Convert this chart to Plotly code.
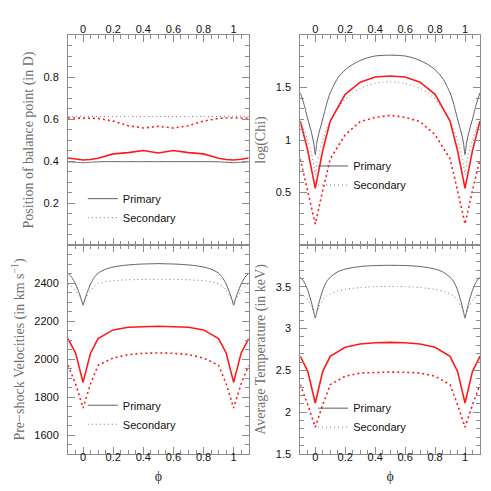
import plotly.graph_objects as go

# =========================
# DATA
# =========================
# observed (red) curves are sampled at these phases
red_phase = [-0.1, -0.05, 0.0, 0.05, 0.1, 0.2, 0.3, 0.4, 0.5, 0.6, 0.7, 0.8, 0.9, 0.95, 1.0, 1.05, 1.1]

# model (grey) curves, denser sampling
model_phase = [-0.1, -0.075, -0.05, -0.025, -0.01, 0.0, 0.01, 0.025, 0.05, 0.075, 0.1,
               0.15, 0.2, 0.25, 0.3, 0.35, 0.4, 0.45, 0.5, 0.55, 0.6, 0.65, 0.7, 0.75, 0.8, 0.85,
               0.9, 0.925, 0.95, 0.975, 0.99, 1.0, 1.01, 1.025, 1.05, 1.075, 1.1]

# position of balance point
balance_primary_model = [0.396, 0.395, 0.394, 0.393, 0.392, 0.392, 0.392, 0.393, 0.394, 0.395, 0.396,
                         0.397, 0.397, 0.397, 0.397, 0.397, 0.397, 0.397, 0.397, 0.397, 0.397, 0.397,
                         0.397, 0.397, 0.397, 0.397, 0.396, 0.395, 0.394, 0.393, 0.392, 0.392, 0.392,
                         0.393, 0.394, 0.395, 0.396]
balance_secondary_model = [0.612, 0.612, 0.613, 0.613, 0.613, 0.613, 0.613, 0.613, 0.613, 0.612, 0.612,
                           0.612, 0.612, 0.612, 0.612, 0.612, 0.612, 0.612, 0.612, 0.612, 0.612, 0.612,
                           0.612, 0.612, 0.612, 0.612, 0.612, 0.612, 0.613, 0.613, 0.613, 0.613, 0.613,
                           0.613, 0.613, 0.612, 0.612]
balance_primary_obs = [0.414, 0.408, 0.405, 0.407, 0.413, 0.434, 0.440, 0.450, 0.438, 0.450, 0.440,
                       0.434, 0.413, 0.407, 0.405, 0.408, 0.414]
balance_secondary_obs = [0.605, 0.605, 0.605, 0.605, 0.603, 0.590, 0.568, 0.557, 0.565, 0.557, 0.568,
                         0.590, 0.603, 0.605, 0.605, 0.605, 0.605]

# log(Chi)
chi_primary_model = [1.45, 1.34, 1.20, 1.07, 0.97, 0.86, 0.97, 1.07, 1.20, 1.34, 1.45,
                     1.59, 1.67, 1.72, 1.757, 1.783, 1.80, 1.806, 1.808, 1.806, 1.80, 1.783,
                     1.757, 1.72, 1.67, 1.59, 1.45, 1.34, 1.20, 1.07, 0.97, 0.86, 0.97,
                     1.07, 1.20, 1.34, 1.45]
chi_secondary_model = [1.18, 1.10, 1.00, 0.87, 0.77, 0.67, 0.77, 0.87, 1.00, 1.10, 1.18,
                       1.30, 1.39, 1.45, 1.49, 1.52, 1.54, 1.55, 1.553, 1.55, 1.54, 1.52,
                       1.49, 1.45, 1.39, 1.30, 1.18, 1.10, 1.00, 0.87, 0.77, 0.67, 0.77,
                       0.87, 1.00, 1.10, 1.18]
chi_primary_obs = [1.18, 0.90, 0.54, 0.90, 1.18, 1.435, 1.55, 1.60, 1.61, 1.60, 1.55,
                   1.435, 1.18, 0.90, 0.54, 0.90, 1.18]
chi_secondary_obs = [0.82, 0.52, 0.20, 0.52, 0.82, 1.05, 1.175, 1.215, 1.235, 1.215, 1.175,
                     1.05, 0.82, 0.52, 0.20, 0.52, 0.82]

# pre-shock velocities (km/s)
vel_primary_model = [2452, 2430, 2395, 2345, 2310, 2283, 2310, 2345, 2395, 2430, 2452,
                     2473, 2484, 2491, 2495, 2498, 2500, 2501, 2502, 2501, 2500, 2498,
                     2495, 2491, 2484, 2473, 2452, 2430, 2395, 2345, 2310, 2283, 2310,
                     2345, 2395, 2430, 2452]
vel_secondary_model = [2395, 2382, 2360, 2330, 2310, 2298, 2310, 2330, 2360, 2382, 2395,
                       2407, 2412, 2415, 2417, 2418, 2419, 2419, 2419, 2419, 2419, 2418,
                       2417, 2415, 2412, 2407, 2395, 2382, 2360, 2330, 2310, 2298, 2310,
                       2330, 2360, 2382, 2395]
vel_primary_obs = [2107, 2032, 1877, 2032, 2107, 2153, 2167, 2170, 2172, 2170, 2167,
                   2153, 2107, 2032, 1877, 2032, 2107]
vel_secondary_obs = [1967, 1870, 1742, 1870, 1967, 2005, 2023, 2030, 2032, 2030, 2023,
                     2005, 1967, 1870, 1742, 1870, 1967]

# average temperature (keV)
temp_primary_model = [3.615, 3.56, 3.46, 3.31, 3.20, 3.125, 3.20, 3.31, 3.46, 3.56, 3.615,
                      3.68, 3.712, 3.73, 3.742, 3.75, 3.754, 3.756, 3.757, 3.756, 3.754, 3.75,
                      3.742, 3.73, 3.712, 3.68, 3.615, 3.56, 3.46, 3.31, 3.20, 3.125, 3.20,
                      3.31, 3.46, 3.56, 3.615]
temp_secondary_model = [3.415, 3.39, 3.34, 3.26, 3.19, 3.14, 3.19, 3.26, 3.34, 3.39, 3.415,
                        3.45, 3.47, 3.482, 3.49, 3.497, 3.501, 3.504, 3.505, 3.504, 3.501, 3.497,
                        3.49, 3.482, 3.47, 3.45, 3.415, 3.39, 3.34, 3.26, 3.19, 3.14, 3.19,
                        3.26, 3.34, 3.39, 3.415]
temp_primary_obs = [2.668, 2.489, 2.11, 2.489, 2.668, 2.776, 2.816, 2.831, 2.835, 2.831, 2.816,
                    2.776, 2.668, 2.489, 2.11, 2.489, 2.668]
temp_secondary_obs = [2.33, 2.09, 1.82, 2.09, 2.33, 2.43, 2.469, 2.478, 2.48, 2.478, 2.469,
                      2.43, 2.33, 2.09, 1.82, 2.09, 2.33]

# tick labels
phase_ticks = [0, 0.2, 0.4, 0.6, 0.8, 1]
phase_ticklabels = ["0", "0.2", "0.4", "0.6", "0.8", "1"]
balance_ticks = [0.2, 0.4, 0.6, 0.8]
chi_ticks = [0.5, 1, 1.5]
vel_ticks = [1600, 1800, 2000, 2200, 2400]
temp_ticks = [1.5, 2, 2.5, 3, 3.5]

# =========================
# STYLE
# =========================
FRAME = "#8c8c8c"
GREY = "#5f5f5f"
RED = "#ff1a1a"
TICK_FONT = dict(family="Liberation Sans, Arial, sans-serif", size=11, color="#111111")
TITLE_FONT = dict(family="Liberation Serif, serif", size=14, color="#707070")

X_LEFT = [0.0, 0.4386]
X_RIGHT = [0.5638, 1.0]
Y_TOP = [0.4988, 1.0]
Y_BOTTOM = [0.0, 0.4988]

fig = go.Figure()

panels = [
    ("x", "y", "legend", balance_primary_model, balance_secondary_model, balance_primary_obs, balance_secondary_obs),
    ("x2", "y2", "legend2", chi_primary_model, chi_secondary_model, chi_primary_obs, chi_secondary_obs),
    ("x3", "y3", "legend3", vel_primary_model, vel_secondary_model, vel_primary_obs, vel_secondary_obs),
    ("x4", "y4", "legend4", temp_primary_model, temp_secondary_model, temp_primary_obs, temp_secondary_obs),
]

for xa, ya, leg, prim_m, sec_m, prim_o, sec_o in panels:
    fig.add_trace(go.Scatter(x=model_phase, y=prim_m, mode="lines", name="Primary",
                             line=dict(color=GREY, width=1, shape="spline", smoothing=0.6),
                             xaxis=xa, yaxis=ya, legend=leg))
    fig.add_trace(go.Scatter(x=model_phase, y=sec_m, mode="lines", name="Secondary",
                             line=dict(color="#7a7a7a", width=1, dash="1px,3px", shape="spline", smoothing=0.6),
                             xaxis=xa, yaxis=ya, legend=leg))
    fig.add_trace(go.Scatter(x=red_phase, y=prim_o, mode="lines", showlegend=False,
                             line=dict(color=RED, width=1.6), xaxis=xa, yaxis=ya))
    fig.add_trace(go.Scatter(x=red_phase, y=sec_o, mode="lines", showlegend=False,
                             line=dict(color=RED, width=1.6, dash="2px,3px"), xaxis=xa, yaxis=ya))


def x_axis(domain, anchor, side, title=None):
    ax = dict(
        domain=domain, anchor=anchor, side=side, range=[-0.1, 1.1],
        tickmode="array", tickvals=phase_ticks, ticktext=phase_ticklabels,
        ticks="inside", ticklen=7, tickcolor=FRAME, tickfont=TICK_FONT,
        showline=True, linecolor=FRAME, linewidth=1, mirror="allticks",
        showgrid=False, zeroline=False,
        ticklabelstandoff=-3 if side == "top" else -7,
        minor=dict(tickmode="linear", ticks="inside", ticklen=4, tick0=0, dtick=0.05,
                   tickcolor=FRAME, showgrid=False),
    )
    if title:
        ax["title"] = dict(text=title, font=dict(family="Liberation Serif, serif", size=14, color="#333333"),
                           standoff=8)
    return ax


def y_axis(domain, anchor, rng, tickvals, minor_dtick, title):
    return dict(
        domain=domain, anchor=anchor, range=rng,
        tickmode="array", tickvals=tickvals,
        ticks="inside", ticklen=7, tickcolor=FRAME, tickfont=TICK_FONT,
        showline=True, linecolor=FRAME, linewidth=1, mirror="allticks",
        showgrid=False, zeroline=False, ticklabelstandoff=6,
        minor=dict(tickmode="linear", ticks="inside", ticklen=4, tick0=0, dtick=minor_dtick,
                   tickcolor=FRAME, showgrid=False),
        title=dict(text=title, font=TITLE_FONT, standoff=6),
    )


def legend_box(x, y):
    return dict(x=x, y=y, xanchor="left", yanchor="top", bgcolor="rgba(0,0,0,0)",
                font=dict(family="Liberation Sans, Arial, sans-serif", size=11, color="#111111"),
                itemwidth=30, tracegroupgap=0)


fig.update_layout(
    template="none",
    width=491, height=491,
    margin=dict(l=60, r=19, t=27, b=45),
    paper_bgcolor="white", plot_bgcolor="white",
    font=dict(family="Liberation Sans, Arial, sans-serif", color="#111111"),
    xaxis=x_axis(X_LEFT, "y", "top"),
    xaxis2=x_axis(X_RIGHT, "y2", "top"),
    xaxis3=x_axis(X_LEFT, "y3", "bottom", "ϕ"),
    xaxis4=x_axis(X_RIGHT, "y4", "bottom", "ϕ"),
    yaxis=y_axis(Y_TOP, "x", [0, 1], balance_ticks, 0.05, "Position of balance point (in D)"),
    yaxis2=y_axis(Y_TOP, "x2", [0, 2], chi_ticks, 0.1, "log(Chi)"),
    yaxis3=y_axis(Y_BOTTOM, "x3", [1500, 2600], vel_ticks, 50, "Pre−shock Velocities (in km s<sup>−1</sup>)"),
    yaxis4=y_axis(Y_BOTTOM, "x4", [1.5, 4.0], temp_ticks, 0.1, "Average Temperature (in keV)"),
    legend=legend_box(0.036, 0.644),
    legend2=legend_box(0.595, 0.722),
    legend3=legend_box(0.036, 0.151),
    legend4=legend_box(0.595, 0.144),
)

fig.write_html("out.html")
